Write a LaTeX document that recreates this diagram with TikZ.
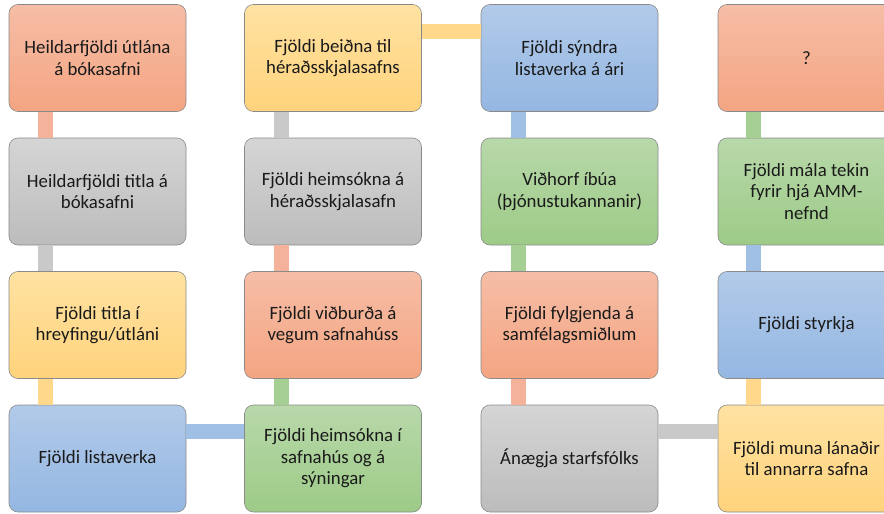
\documentclass[tikz,border=0pt]{standalone}
\usepackage{fontspec}
\setmainfont{Carlito}
\definecolor{salT}{HTML}{F6BDA6}
\definecolor{salB}{HTML}{F4A582}
\definecolor{salBar}{HTML}{F5B29A}
\definecolor{yelT}{HTML}{FFE2A2}
\definecolor{yelB}{HTML}{FFD37C}
\definecolor{yelBar}{HTML}{FFD88C}
\definecolor{bluT}{HTML}{B2CAE9}
\definecolor{bluB}{HTML}{94B7E2}
\definecolor{bluBar}{HTML}{A0BFE5}
\definecolor{grnT}{HTML}{B8D8AA}
\definecolor{grnB}{HTML}{9DCB87}
\definecolor{grnBar}{HTML}{A6D093}
\definecolor{gryT}{HTML}{D5D5D5}
\definecolor{gryB}{HTML}{BCBCBC}
\definecolor{gryBar}{HTML}{C9C9C9}
\definecolor{edge}{HTML}{8A8A8A}
\definecolor{txt}{HTML}{1A1A1A}
\tikzset{
  box/.style={rectangle, rounded corners=9pt, draw=edge, line width=0.6pt,
    minimum width=177pt, minimum height=107pt, inner sep=2pt, align=center,
    text=txt, font=\fontsize{18.8}{21.5}\selectfont},
  salbox/.style={box, top color=salT, bottom color=salB},
  yelbox/.style={box, top color=yelT, bottom color=yelB},
  blubox/.style={box, top color=bluT, bottom color=bluB},
  grnbox/.style={box, top color=grnT, bottom color=grnB},
  grybox/.style={box, top color=gryT, bottom color=gryB},
  bar/.style={line width=15pt, line cap=butt, draw=#1}
}
\begin{document}
\begin{tikzpicture}[x=1pt, y=-1pt]
\clip (0,0) rectangle (884,514);
\fill[white] (0,0) rectangle (884,514);
% column 1
\node[salbox] (a1) at (97.5,58) {Heildarfjöldi útlána\\á bókasafni};
\node[grybox] (a2) at (97.5,191.5) {Heildarfjöldi titla á\\bókasafni};
\node[yelbox] (a3) at (97.5,325) {Fjöldi titla í\\hreyfingu/útláni};
\node[blubox] (a4) at (97.5,458.5) {Fjöldi listaverka};
% column 2
\node[yelbox] (b1) at (333,58) {Fjöldi beiðna til\\héraðsskjalasafns};
\node[grybox] (b2) at (333,191.5) {Fjöldi heimsókna á\\héraðsskjalasafn};
\node[salbox] (b3) at (333,325) {Fjöldi viðburða á\\vegum safnahúss};
\node[grnbox] (b4) at (333,458.5) {Fjöldi heimsókna í\\safnahús og á\\sýningar};
% column 3
\node[blubox] (c1) at (569.5,58) {Fjöldi sýndra\\listaverka á ári};
\node[grnbox] (c2) at (569.5,191.5) {Viðhorf íbúa\\(þjónustukannanir)};
\node[salbox] (c3) at (569.5,325) {Fjöldi fylgjenda á\\samfélagsmiðlum};
\node[grybox] (c4) at (569.5,458.5) {Ánægja starfsfólks};
% column 4
\node[salbox] (d1) at (806.5,58) {?};
\node[grnbox] (d2) at (806.5,191.5) {Fjöldi mála tekin\\fyrir hjá AMM-\\nefnd};
\node[blubox] (d3) at (806.5,325) {Fjöldi styrkja};
\node[yelbox] (d4) at (806.5,458.5) {Fjöldi muna lánaðir\\til annarra safna};
% connectors
\draw[bar=salBar] ([xshift=-52pt]a1.south) -- ([xshift=-52pt]a2.north);
\draw[bar=gryBar] ([xshift=-52pt]a2.south) -- ([xshift=-52pt]a3.north);
\draw[bar=yelBar] ([xshift=-52pt]a3.south) -- ([xshift=-52pt]a4.north);
\draw[bar=bluBar] ([yshift=27pt]a4.east) -- ([yshift=27pt]b4.west);
\draw[bar=grnBar] ([xshift=-52pt]b4.north) -- ([xshift=-52pt]b3.south);
\draw[bar=salBar] ([xshift=-52pt]b3.north) -- ([xshift=-52pt]b2.south);
\draw[bar=gryBar] ([xshift=-52pt]b2.north) -- ([xshift=-52pt]b1.south);
\draw[bar=yelBar] ([yshift=27pt]b1.east) -- ([yshift=27pt]c1.west);
\draw[bar=bluBar] ([xshift=-51pt]c1.south) -- ([xshift=-51pt]c2.north);
\draw[bar=grnBar] ([xshift=-51pt]c2.south) -- ([xshift=-51pt]c3.north);
\draw[bar=salBar] ([xshift=-51pt]c3.south) -- ([xshift=-51pt]c4.north);
\draw[bar=gryBar] ([yshift=27pt]c4.east) -- ([yshift=27pt]d4.west);
\draw[bar=yelBar] ([xshift=-53pt]d4.north) -- ([xshift=-53pt]d3.south);
\draw[bar=bluBar] ([xshift=-53pt]d3.north) -- ([xshift=-53pt]d2.south);
\draw[bar=grnBar] ([xshift=-53pt]d2.north) -- ([xshift=-53pt]d1.south);
\end{tikzpicture}
\end{document}
